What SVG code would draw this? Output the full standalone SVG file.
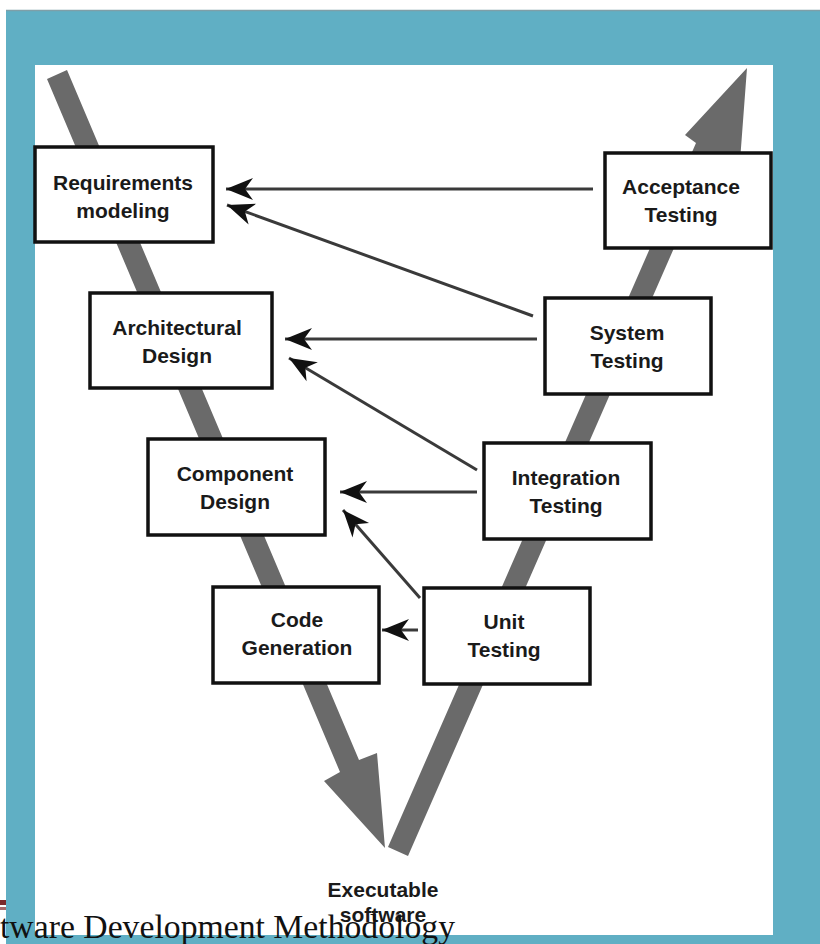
<svg xmlns="http://www.w3.org/2000/svg" width="820" height="944" viewBox="0 0 820 944">
<style>
.box{fill:#fff;stroke:#111;stroke-width:3.5}
.lbl{font-family:"Liberation Sans",Arial,sans-serif;font-weight:bold;font-size:21px;fill:#1a1a1a;text-anchor:middle}
.con{stroke:#3a3a3a;stroke-width:3;fill:none;marker-end:url(#ah)}
.leg{fill:#6a6a6a}
</style>
<defs>
<marker id="ah" viewBox="-29 -13 31 26" refX="0" refY="0" markerWidth="31" markerHeight="26" markerUnits="userSpaceOnUse" orient="auto">
<path d="M0,0 L-27,-11 L-19,0 L-27,11 Z" fill="#111"/>
</marker>
</defs>
<rect x="0" y="0" width="820" height="944" fill="#fff"/>
<rect x="6" y="10" width="814" height="934" fill="#60afc4"/>
<line x1="6" y1="10.5" x2="820" y2="10.5" stroke="#7e9fa8" stroke-width="1.5"/>
<rect x="35" y="65" width="738" height="870" fill="#fff"/>
<g id="v-shape">
<polygon class="leg" points="47,79 67,70 359,760 377,753 385,848 324,781 340,772"/>
<polygon class="leg" points="388,847 696,143 685,135 747,68 740,161 716,152 408,856"/>
</g>
<g id="connectors">
<line class="con" x1="593" y1="189" x2="226" y2="189"/>
<line class="con" x1="533" y1="316" x2="227" y2="205"/>
<line class="con" x1="537" y1="339" x2="285" y2="339"/>
<line class="con" x1="477" y1="470" x2="289" y2="358"/>
<line class="con" x1="477" y1="492" x2="340" y2="492"/>
<line class="con" x1="420" y1="598" x2="343" y2="510"/>
<line class="con" x1="418" y1="630" x2="382" y2="630"/>
</g>
<g id="requirements">
<rect class="box" x="35" y="147" width="178" height="95"/>
<text class="lbl" x="123" y="190">Requirements</text>
<text class="lbl" x="123" y="218">modeling</text>
</g>
<g id="acceptance">
<rect class="box" x="605" y="153" width="166" height="95"/>
<text class="lbl" x="681" y="194">Acceptance</text>
<text class="lbl" x="681" y="222">Testing</text>
</g>
<g id="architectural">
<rect class="box" x="90" y="293" width="182" height="95"/>
<text class="lbl" x="177" y="335">Architectural</text>
<text class="lbl" x="177" y="363">Design</text>
</g>
<g id="system">
<rect class="box" x="545" y="298" width="166" height="96"/>
<text class="lbl" x="627" y="340">System</text>
<text class="lbl" x="627" y="368">Testing</text>
</g>
<g id="component">
<rect class="box" x="148" y="439" width="177" height="96"/>
<text class="lbl" x="235" y="481">Component</text>
<text class="lbl" x="235" y="509">Design</text>
</g>
<g id="integration">
<rect class="box" x="484" y="443" width="167" height="96"/>
<text class="lbl" x="566" y="485">Integration</text>
<text class="lbl" x="566" y="513">Testing</text>
</g>
<g id="code">
<rect class="box" x="213" y="587" width="166" height="96"/>
<text class="lbl" x="297" y="627">Code</text>
<text class="lbl" x="297" y="655">Generation</text>
</g>
<g id="unit">
<rect class="box" x="424" y="588" width="166" height="96"/>
<text class="lbl" x="504" y="629">Unit</text>
<text class="lbl" x="504" y="657">Testing</text>
</g>
<g id="executable">
<text class="lbl" x="383" y="897">Executable</text>
<text class="lbl" x="383" y="922">software</text>
</g>
<rect x="0" y="900" width="6" height="5" fill="#7b2a2a"/>
<rect x="0" y="907" width="6" height="3" fill="#a86a6a"/>
<text x="0" y="938" font-family="'Liberation Serif','Times New Roman',serif" font-size="33" fill="#111" textLength="455" lengthAdjust="spacingAndGlyphs">tware Development Methodology</text>
</svg>
